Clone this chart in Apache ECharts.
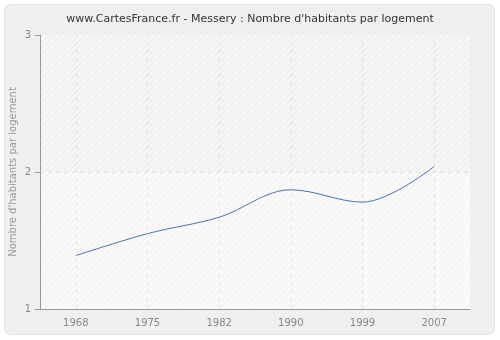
<!DOCTYPE html>
<html><head><meta charset="utf-8">
<script src="https://cdn.jsdelivr.net/npm/echarts@6/dist/echarts.min.js"></script>
<style>html,body{margin:0;padding:0;background:#fff}#c{width:500px;height:340px}</style>
</head><body><div id="c"></div>
<script>
var years = ['1968','1975','1982','1990','1999','2007'];
var values = [1.39, 1.55, 1.67, 1.87, 1.78, 2.04];
var yTicks = [1, 2, 3];

function hatch(bg, line){
  var c = document.createElement('canvas'); c.width = 6; c.height = 6;
  var g = c.getContext('2d');
  g.fillStyle = bg; g.fillRect(0,0,6,6);
  g.strokeStyle = line; g.lineWidth = 1;
  g.beginPath(); g.moveTo(0,6); g.lineTo(6,0); g.moveTo(-3,3); g.lineTo(3,-3); g.moveTo(3,9); g.lineTo(9,3); g.stroke();
  return {image: c, repeat: 'repeat'};
}

var chart = echarts.init(document.getElementById('c'), null, {renderer:'canvas'});
chart.setOption({
  animation: false,
  backgroundColor: '#fff',
  graphic: [{type:'rect', shape:{x:4.5,y:4.5,width:490,height:330,r:6}, style:{fill:'#efefef', stroke:'#e2e2e2', lineWidth:1}, z:-10}],
  title: {text: "www.CartesFrance.fr - Messery : Nombre d'habitants par logement", left: 'center', top: 9,
    textStyle: {fontFamily: 'DejaVu Sans', fontSize: 11, fontWeight: 'normal', color: '#333'}},
  grid: {left: 40, right: 30, top: 35, bottom: 31, show: true, backgroundColor: '#f8f8f8', borderWidth: 0,
    containLabel: false, outerBoundsMode: 'none'},
  xAxis: {type: 'category', data: years, boundaryGap: true, z: 10,
    axisLine: {lineStyle: {color: '#999'}},
    axisTick: {alignWithLabel: true, length: 5, lineStyle: {color: '#999'}},
    axisLabel: {color: '#888', fontFamily: 'DejaVu Sans', fontSize: 10, margin: 9},
    splitLine: {show: false}},
  yAxis: {type: 'value', min: 1, max: 3, interval: 1, z: 10,
    name: "Nombre d'habitants par logement", nameLocation: 'middle', nameGap: 22, nameMoveOverlap: false,
    nameTextStyle: {color: '#999', fontFamily: 'DejaVu Sans', fontSize: 10},
    axisLine: {show: true, lineStyle: {color: '#999'}},
    axisTick: {show: true, length: 5, lineStyle: {color: '#999'}},
    axisLabel: {color: '#888', fontFamily: 'DejaVu Sans', fontSize: 10, margin: 9},
    splitLine: {show: false}},
  series: [
    {type: 'line', data: values, smooth: 0.35, symbol: 'none', z: 5,
      lineStyle: {color: '#4a74a8', width: 1},
      markArea: {silent: true, data: [
        [{yAxis: 2, itemStyle: {color: hatch('#f6f6f6', '#e9e9e9')}}, {yAxis: 3}],
        [{yAxis: 1, itemStyle: {color: hatch('#f9f9f9', '#f0f0f0')}}, {yAxis: 2}]
      ]},
      markLine: {silent: true, symbol: 'none', label: {show: false},
        lineStyle: {color: '#e2e2e2', type: [4,4], width: 1},
        data: years.map(function(y){ return {xAxis: y}; }).concat([{yAxis: 2}])}
    }
  ]
});
</script></body></html>
